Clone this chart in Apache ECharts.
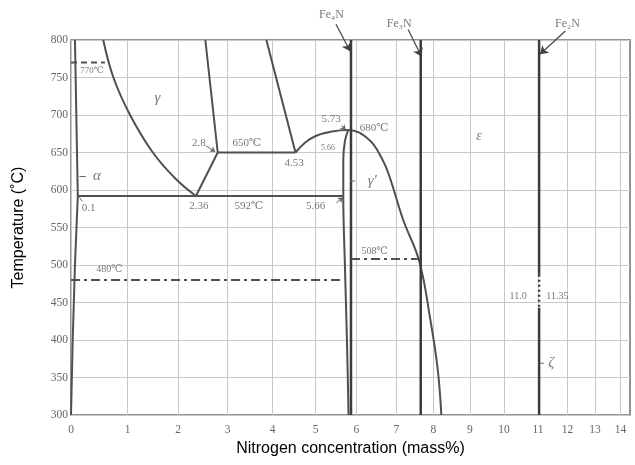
<!DOCTYPE html>
<html><head><meta charset="utf-8">
<script src="https://cdn.jsdelivr.net/npm/echarts@6/dist/echarts.min.js"></script>
<style>html,body{margin:0;padding:0;background:#fff}#c{width:635px;height:465px}</style>
</head><body><div id="c"></div>
<script>
// ---- axis ticks ----
const massTicks = [0,1,2,3,4,5,6,7,8,9,10,11,12,13,14];
// nonlinear composition scale of the original diagram (axis units for each mass% tick)
const xScaleStops = [0,56.5,107,156.5,201.5,244.5,285,325,362,398.5,432.5,466.5,496,523.5,549];
const xAxisEnd = 558.5;
const tempTicks = [300,350,400,450,500,550,600,650,700,750,800];

// ---- phase boundaries (mass% N, °C) ----
const alphaSolvus = [[0.07,800],[0.12,592],[0.07,500],[0.03,400],[0,300]];
const gammaBoundary = [[0.57,800],[0.75,750],[1.05,700],[1.5,650],[1.95,615],[2.36,592]];
const gammaRight = [[2.36,592],[2.8,650],[2.55,800]];
const eutectoid650 = [[2.8,650],[4.53,650]];
const gammaEpsLeft = [[3.86,800],[4.53,650]];
const epsBoundary = [[4.53,650],[4.75,663],[5.0,672],[5.4,678],[5.8,680],[6.32,667],[6.65,641],[6.83,618],[7.18,561],[7.62,505],[7.92,427],[8.12,361],[8.22,300]];
const gammaPrimeLeft = [[5.8,680],[5.72,665],[5.68,640],[5.68,592],[5.72,500],[5.77,400],[5.81,300]];
const eutectoid592 = [[0.12,592],[5.66,592]];
const fe4NLine = [[5.87,300],[5.87,800]];
const fe3NLine = [[7.66,300],[7.66,800]];
const fe2NUpper = [[11.04,800],[11.04,487]];
const fe2NDotted = [[11.04,487],[11.04,443]];
const fe2NLower = [[11.04,443],[11.04,300]];
const curie770 = [[0,770],[0.6,770]];
const iso480 = [[0,480],[5.64,480]];
const iso508 = [[5.87,508],[7.66,508]];

// ---- annotations ----
const textLabels = [
  [0.37,759,'770℃',9],[1.59,723,'γ',15,'italic'],[2.42,663,'2.8',11],[3.43,663,'650℃',11],
  [4.5,636,'4.53',11],[5.38,694,'5.73',11],[5.3,656,'5.66',8],[6.45,683,'680℃',11],
  [6.4,612,'γ\'',15,'italic'],[0.46,618,'α',15,'italic'],[0.31,576,'0.1',11],[2.42,578,'2.36',11],
  [3.47,578,'592℃',11],[5.0,578,'5.66',11],[9.27,672,'ε',14,'italic'],[6.46,518,'508℃',10],
  [0.68,494,'480℃',10],[10.42,458,'11.0',10],[11.66,458,'11.35',10],[11.45,369,'ζ',15,'italic'],
  [5.39,834,'Fe₄N',12],[7.08,822,'Fe₃N',12],[12.0,822,'Fe₂N',12]
];
const arrows = [
  [[5.5,821],[5.85,785]],[[7.32,814],[7.68,778]],[[11.93,812],[11.07,781]]
];
const smallArrows = [
  [[2.56,659],[2.75,651]],[[5.51,583],[5.67,590]],[[5.63,686],[5.74,680]]
];
const leaders = [
  [[0.15,618],[0.26,618]],[[5.85,612],[5.97,612]],[[11.08,369],[11.2,369]],[[0.2,585],[0.15,590]]
];

function toX(m){
  let i = Math.min(Math.max(Math.floor(m),0),xScaleStops.length-2);
  return xScaleStops[i] + (m-i)*(xScaleStops[i+1]-xScaleStops[i]);
}
const tr = pts => pts.map(p => [toX(p[0]), p[1]]);

const LINE = '#505050';
function ln(data, extra){
  return Object.assign({type:'line', data: tr(data), symbol:'none', silent:true, clip:false,
    lineStyle:{color:LINE, width:2}}, extra||{});
}
function arrowSeries(list, size, color, width){
  return {type:'lines', coordinateSystem:'cartesian2d', clip:false, silent:true,
    symbol:['none','arrow'], symbolSize:size,
    lineStyle:{color:color, width:width, opacity:1, curveness:0},
    data: list.map(a => ({coords: tr(a)}))};
}
const serif = "'Liberation Serif','DejaVu Serif',serif";

const series = [
  ln(alphaSolvus),
  ln(gammaBoundary,{smooth:0.4}),
  ln(gammaRight),
  ln(eutectoid650),
  ln(gammaEpsLeft),
  ln(epsBoundary,{smooth:0.4}),
  ln(gammaPrimeLeft,{smooth:0.4}),
  ln(eutectoid592),
  ln(fe4NLine,{lineStyle:{color:'#3c3c3c',width:2.5}}),
  ln(fe3NLine,{lineStyle:{color:'#3c3c3c',width:2.5}}),
  ln(fe2NUpper,{lineStyle:{color:'#3c3c3c',width:2.5}}),
  ln(fe2NDotted,{lineStyle:{color:'#3c3c3c',width:2.5,type:[2,3]}}),
  ln(fe2NLower,{lineStyle:{color:'#3c3c3c',width:2.5}}),
  ln(curie770,{lineStyle:{color:LINE,width:1.8,type:[6,4]}}),
  ln(iso480,{lineStyle:{color:LINE,width:1.8,type:[9,4,3,4]}}),
  ln(iso508,{lineStyle:{color:LINE,width:1.8,type:[9,4,3,4]}}),
  arrowSeries(arrows, 8, '#444', 1.2),
  arrowSeries(smallArrows, 5, '#666', 1),
];
leaders.forEach(l => series.push(ln(l,{lineStyle:{color:'#666',width:1}})));
series.push({
  type:'scatter', clip:false, silent:true, symbolSize:1, itemStyle:{color:'rgba(0,0,0,0)'},
  data: textLabels.map(t => ({value:[toX(t[0]), t[1]], name:t[2],
    label:{show:true, position:'inside', formatter:t[2], fontSize:t[3], fontStyle:t[4]||'normal',
      color:'#555', fontFamily:serif}}))
});

const chart = echarts.init(document.getElementById('c'), null, {renderer:'canvas'});
chart.setOption({
  animation:false,
  grid:{left:71, right:5, top:40, bottom:50, show:true, borderColor:'#707070', borderWidth:1.5, containLabel:false},
  xAxis:{type:'value', min:0, max:xAxisEnd,
    name:'Nitrogen concentration (mass%)', nameLocation:'middle', nameGap:25,
    nameTextStyle:{fontFamily:"'Liberation Sans',Arial,sans-serif", fontSize:16, color:'#000'},
    axisLine:{show:false}, axisTick:{show:false, customValues:xScaleStops},
    axisLabel:{customValues:xScaleStops, margin:9, fontFamily:serif, fontSize:11.5, color:'#666',
      formatter: v => { const i = xScaleStops.findIndex(s => Math.abs(s-v)<1e-6); return i>=0 ? String(massTicks[i]) : ''; }},
    splitLine:{show:true, lineStyle:{color:'#c8c8c8', width:1}}
  },
  yAxis:{type:'value', min:tempTicks[0], max:tempTicks[tempTicks.length-1], interval:50,
    name:'Temperature (˚C)', nameLocation:'middle', nameGap:44,
    nameTextStyle:{fontFamily:"'Liberation Sans',Arial,sans-serif", fontSize:16, color:'#000'},
    axisLine:{show:false}, axisTick:{show:false},
    axisLabel:{margin:3, fontFamily:serif, fontSize:11.5, color:'#666'},
    splitLine:{show:true, lineStyle:{color:'#c8c8c8', width:1}}
  },
  series: series
});
</script></body></html>
